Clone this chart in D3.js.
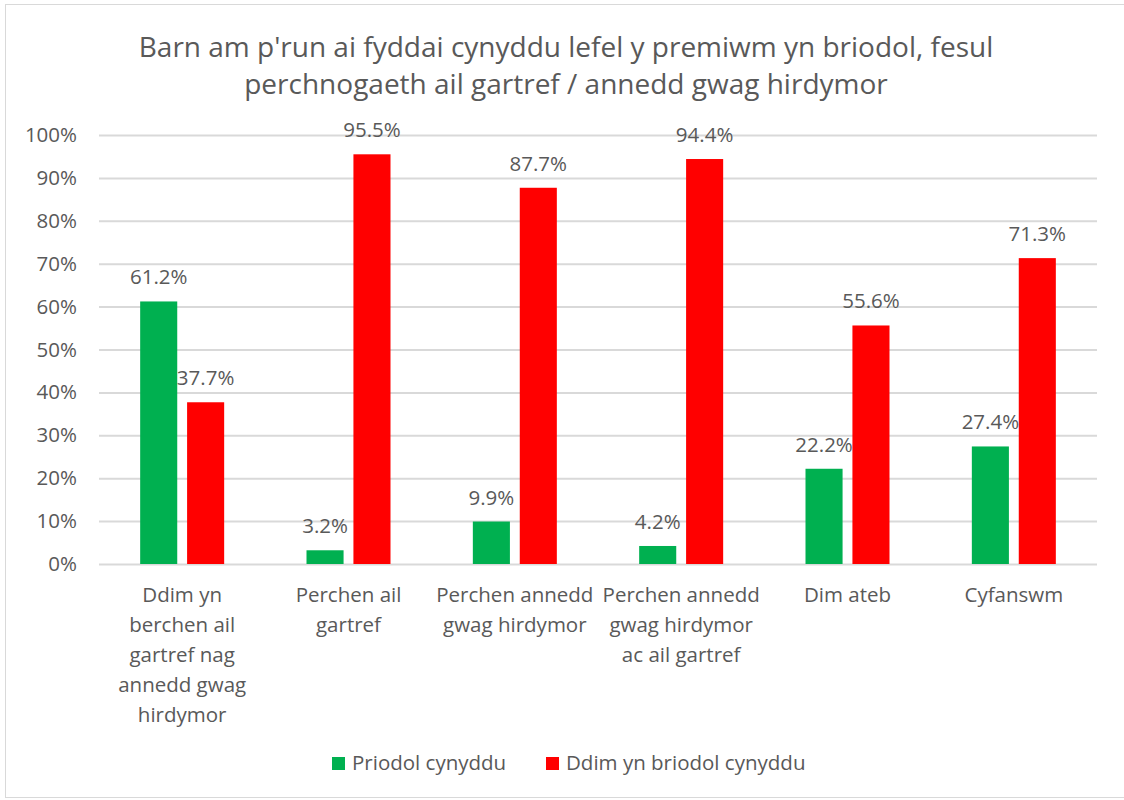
<!DOCTYPE html>
<html>
<head>
<meta charset="utf-8">
<script src="https://cdn.jsdelivr.net/npm/d3@7"></script>
<style>
  body { margin: 0; background: #fff; }
  text { font-family: "Open Sans", sans-serif; fill: #595959; }
</style>
</head>
<body>
<div id="chart"></div>
<script>
// chart data
var categories = [
  "Ddim yn berchen ail gartref nag annedd gwag hirdymor",
  "Perchen ail gartref",
  "Perchen annedd gwag hirdymor",
  "Perchen annedd gwag hirdymor ac ail gartref",
  "Dim ateb",
  "Cyfanswm"
];
// how the axis labels wrap in the picture
var categoryLines = [
  ["Ddim yn", "berchen ail", "gartref nag", "annedd gwag", "hirdymor"],
  ["Perchen ail", "gartref"],
  ["Perchen annedd", "gwag hirdymor"],
  ["Perchen annedd", "gwag hirdymor", "ac ail gartref"],
  ["Dim ateb"],
  ["Cyfanswm"]
];
var seriesNames = ["Priodol cynyddu", "Ddim yn briodol cynyddu"];
var priodol = [61.2, 3.2, 9.9, 4.2, 22.2, 27.4];
var ddimPriodol = [37.7, 95.5, 87.7, 94.4, 55.6, 71.3];
var yTicks = [0, 10, 20, 30, 40, 50, 60, 70, 80, 90, 100];
var titleLines = [
  "Barn am p'run ai fyddai cynyddu lefel y premiwm yn briodol, fesul",
  "perchnogaeth ail gartref / annedd gwag hirdymor"
];

var render = function() {
  let width = 1124;
  let height = 800;
  let plot = { left: 99, right: 1097, top: 135, bottom: 564 };
  let colors = ["#00b050", "#ff0000"];
  let fs = "20.5px";

  let svg = d3.select("#chart")
  .append("svg")
  .attr("width", width)
  .attr("height", height);

  // outer frame
  svg.append("rect")
  .attr("x", 5.5).attr("y", 4.5)
  .attr("width", width + 10).attr("height", height - 7)
  .attr("fill", "none")
  .attr("stroke", "#d9d9d9");

  svg.append("text")
  .attr("text-anchor", "middle")
  .style("font-size", "28px")
  .selectAll("tspan")
  .data(titleLines)
  .enter()
  .append("tspan")
  .attr("x", 566)
  .attr("y", (d, i) => 57 + i * 37)
  .text((d) => d);

  let yScale = d3.scaleLinear()
  .domain([0, 100])
  .range([plot.bottom, plot.top]);

  let xScale = d3.scaleBand()
  .domain(categories)
  .range([plot.left, plot.right])
  .paddingInner(0.495)
  .paddingOuter(0.2475);

  let inner = d3.scaleBand()
  .domain(seriesNames)
  .range([0, xScale.bandwidth()])
  .paddingInner(0.21);

  // grid
  let yAxis = d3.axisLeft(yScale)
  .tickValues(yTicks)
  .tickSize(-(plot.right - plot.left))
  .tickPadding(22)
  .tickFormat((d) => d + "%");

  let gy = svg.append("g")
  .attr("transform", "translate(" + plot.left + ",0)")
  .call(yAxis);
  gy.select(".domain").remove();
  gy.selectAll("line").attr("stroke", "#d9d9d9").attr("stroke-width", 2);
  gy.selectAll("text").style("font-size", fs).style("fill", "#595959");

  let rows = categories.map(function(c, i) {
    return { cat: c, lines: categoryLines[i], values: [priodol[i], ddimPriodol[i]] };
  });

  let groups = svg.selectAll(".grp")
  .data(rows)
  .enter()
  .append("g")
  .attr("transform", (d) => "translate(" + xScale(d.cat) + ",0)");

  groups.selectAll("rect")
  .data((d) => d.values.map((v, j) => ({ v: v, s: seriesNames[j], j: j })))
  .enter()
  .append("rect")
  .attr("x", (d) => inner(d.s))
  .attr("width", inner.bandwidth())
  .attr("y", (d) => yScale(d.v))
  .attr("height", (d) => yScale(0) - yScale(d.v))
  .attr("fill", (d) => colors[d.j]);

  groups.selectAll(".lbl")
  .data((d) => d.values.map((v, j) => ({ v: v, s: seriesNames[j] })))
  .enter()
  .append("text")
  .attr("class", "lbl")
  .attr("x", (d) => inner(d.s) + inner.bandwidth() / 2)
  .attr("y", (d) => yScale(d.v) - 17)
  .attr("text-anchor", "middle")
  .style("font-size", fs)
  .text((d) => d.v.toFixed(1) + "%");

  // category labels
  groups.append("text")
  .attr("text-anchor", "middle")
  .style("font-size", fs)
  .selectAll("tspan")
  .data((d) => d.lines)
  .enter()
  .append("tspan")
  .attr("x", xScale.bandwidth() / 2)
  .attr("y", (d, i) => 602 + i * 30)
  .text((d) => d);

  // legend
  let legendX = [332, 546];
  let leg = svg.selectAll(".leg")
  .data(seriesNames)
  .enter()
  .append("g")
  .attr("transform", (d, i) => "translate(" + legendX[i] + ",757)");
  leg.append("rect")
  .attr("width", 13).attr("height", 13)
  .attr("fill", (d, i) => colors[i]);
  leg.append("text")
  .attr("x", 20).attr("y", 13)
  .style("font-size", fs)
  .text((d) => d);
};

render();
</script>
</body>
</html>
